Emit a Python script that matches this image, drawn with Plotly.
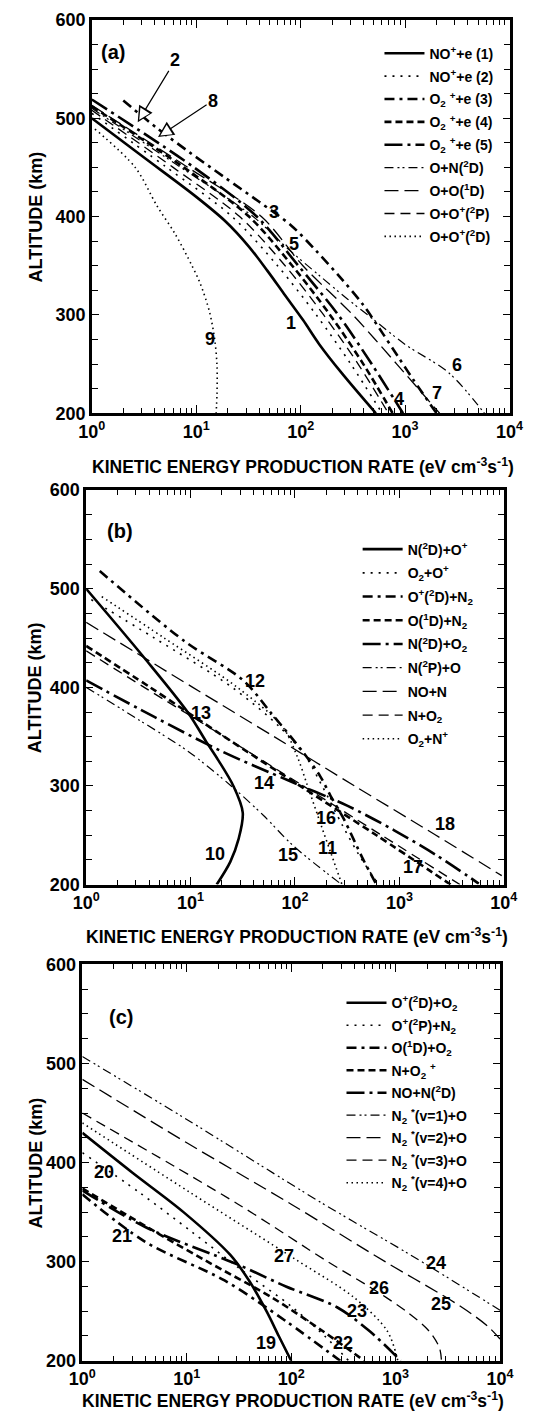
import numpy as np
import plotly.graph_objects as go

W, H = 552, 1424
FONT = "Liberation Sans, Arial, Helvetica, sans-serif"

# ---------------- panel (a) ----------------
a_names = ["NO<sup>+</sup>+e (1)", "NO<sup>+</sup>+e (2)", "O<sub>2</sub> <sup>+</sup>+e (3)",
           "O<sub>2</sub> <sup>+</sup>+e (4)", "O<sub>2</sub> <sup>+</sup>+e (5)",
           "O+N(<sup>2</sup>D)", "O+O(<sup>1</sup>D)", "O+O<sup>+</sup>(<sup>2</sup>P)",
           "O+O<sup>+</sup>(<sup>2</sup>D)"]

a1_alt = [500, 460, 420, 395, 370, 345, 320, 295, 270, 240, 200]
a1_rate = [1.0, 3.16, 10, 19.1, 31.6, 47.9, 70.8, 105, 151, 251, 525]
a2_alt = [505, 450, 400, 350, 300, 250, 200]
a2_rate = [1.0, 5.2, 22, 60, 141, 302, 603]
a3_alt = [518, 490, 465, 440, 415, 391, 365, 337, 310, 282, 258, 234, 200]
a3_rate = [2.0, 4.2, 8.7, 18.6, 40, 81, 141, 245, 398, 603, 851, 1200, 2000]
a4_alt = [512, 450, 400, 350, 300, 250, 200]
a4_rate = [1.0, 7.6, 32, 83, 191, 398, 760]
a5_alt = [519, 450, 400, 350, 300, 250, 200]
a5_rate = [1.0, 9.5, 38, 95, 229, 479, 955]
a6_alt = [510, 450, 400, 367, 340, 316, 296, 270, 241, 200]
a6_rate = [1.0, 7.1, 35, 76, 151, 282, 490, 1000, 2630, 5750]
a7_alt = [513, 450, 400, 350, 300, 250, 200]
a7_rate = [1.0, 8.3, 42, 105, 316, 832, 2140]
a8_alt = [508, 450, 400, 350, 300, 250, 200]
a8_rate = [1.0, 6.0, 26, 71, 166, 355, 692]
a9_alt = [489, 450, 411, 382, 350, 332, 303, 273, 248, 220, 200]
a9_rate = [1.07, 2.6, 4.2, 6.3, 9.1, 10.9, 13.4, 15.1, 15.8, 15.8, 15.5]

# ---------------- panel (b) ----------------
b_names = ["N(<sup>2</sup>D)+O<sup>+</sup>", "O<sub>2</sub>+O<sup>+</sup>",
           "O<sup>+</sup>(<sup>2</sup>D)+N<sub>2</sub>", "O(<sup>1</sup>D)+N<sub>2</sub>",
           "N(<sup>2</sup>D)+O<sub>2</sub>", "N(<sup>2</sup>P)+O", "NO+N", "N+O<sub>2</sub>",
           "O<sub>2</sub>+N<sup>+</sup>"]

b10_alt = [500, 430, 374, 345, 327, 300, 273, 246, 223, 200]
b10_rate = [1.0, 3.6, 9.5, 14.1, 18.2, 25.7, 31.6, 28.8, 24.0, 17.8]
b11_alt = [489, 450, 400, 360, 330, 300, 260, 230, 200]
b11_rate = [1.12, 4.5, 25, 71, 126, 182, 285, 410, 630]
b12_alt = [518, 447, 407, 374, 334, 310, 290, 266, 226, 200]
b12_rate = [1.35, 8.7, 32, 59, 120, 174, 219, 295, 447, 603]
b13_alt = [442, 400, 350, 300, 250, 200]
b13_rate = [1.0, 4.1, 21, 112, 603, 3090]
b14_alt = [407, 370, 335, 305, 280, 255, 230, 201]
b14_rate = [1.0, 4.5, 20, 89, 316, 891, 2240, 5750]
b15_alt = [400, 367, 335, 300, 270, 239, 200]
b15_rate = [1.0, 3.2, 9.5, 24.5, 50, 97, 280]
b16_alt = [466, 400, 350, 300, 250, 209]
b16_rate = [1.0, 10.5, 63, 372, 2240, 9550]
b17_alt = [437, 400, 350, 300, 250, 200]
b17_rate = [1.0, 3.6, 21, 120, 676, 3800]
b18_alt = [492, 450, 400, 360, 330, 300, 260, 230, 200]
b18_rate = [1.41, 5.6, 28, 76, 105, 132, 178, 224, 282]

# ---------------- panel (c) ----------------
c_names = ["O<sup>+</sup>(<sup>2</sup>D)+O<sub>2</sub>", "O<sup>+</sup>(<sup>2</sup>P)+N<sub>2</sub>",
           "O(<sup>1</sup>D)+O<sub>2</sub>", "N+O<sub>2</sub> <sup>+</sup>", "NO+N(<sup>2</sup>D)",
           "N<sub>2</sub> <sup>*</sup>(v=1)+O", "N<sub>2</sub> <sup>*</sup>(v=2)+O",
           "N<sub>2</sub> <sup>*</sup>(v=3)+O", "N<sub>2</sub> <sup>*</sup>(v=4)+O"]

c19_alt = [430, 390, 350, 307, 280, 250, 225, 200]
c19_rate = [1.0, 3.0, 9.3, 26, 40, 58, 76, 100]
c20_alt = [410, 370, 330, 290, 255, 225, 200]
c20_rate = [1.0, 3.5, 11.2, 35, 100, 209, 355]
c21_alt = [368, 320, 281, 240, 200]
c21_rate = [1.0, 4.0, 23, 89, 295]
c22_alt = [374, 330, 300, 264, 230, 200]
c22_rate = [1.0, 5.0, 15.8, 65, 200, 501]
c23_alt = [372, 335, 297, 275, 254, 230, 200]
c23_rate = [1.0, 4.0, 31, 89, 275, 562, 1120]
c24_alt = [507, 445, 360, 307, 251]
c24_rate = [1.0, 9.5, 191, 1380, 10000]
c25_alt = [484, 420, 358, 300, 255, 235, 222]
c25_rate = [1.0, 10, 100, 794, 4170, 7590, 10000]
c26_alt = [450, 358, 300, 274, 250, 230, 213, 200]
c26_rate = [1.0, 31, 224, 575, 1260, 2090, 2630, 2750]
c27_alt = [440, 370, 301, 264, 230, 200]
c27_rate = [1.0, 10.7, 115, 398, 832, 1050]

# curve number labels: (text, rate, altitude)
a_marks = [("3", 56, 405), ("5", 87, 372), ("1", 81, 292), ("9", 13.5, 275),
           ("6", 3160, 249), ("7", 2000, 221), ("4", 870, 214)]
b_marks = [("12", 41, 406), ("13", 12.6, 374), ("14", 50, 303), ("16", 200, 267),
           ("18", 2750, 261), ("10", 17, 231), ("15", 85, 230), ("11", 205, 237),
           ("17", 1350, 218)]
c_marks = [("20", 1.6, 390), ("21", 2.4, 326), ("27", 85, 306), ("24", 2450, 299),
           ("26", 690, 273), ("25", 2750, 257), ("23", 430, 250), ("19", 58, 218),
           ("22", 316, 218)]

# line styles shared by the three panels (width, dash)
STYLES = [
    (2.6, "solid"),
    (1.6, "2px,6px"),
    (2.6, "10px,5px,3px,5px"),
    (2.6, "7px,4px"),
    (2.6, "18px,5px,3px,5px"),
    (1.2, "9px,4px,2px,3px,2px,4px"),
    (1.3, "14px,6px"),
    (1.3, "10px,6px"),
    (1.6, "1.5px,3.5px"),
]

panels = [
    dict(key="", leg="legend", names=a_names, tag="(a)", tagpos=(1.6, 567),
         box=(82, 522, 10, 409), legpos=(385, 28), gap=1.7, titley=463, marks=a_marks,
         curves=[(a1_alt, a1_rate), (a2_alt, a2_rate), (a3_alt, a3_rate), (a4_alt, a4_rate),
                 (a5_alt, a5_rate), (a6_alt, a6_rate), (a7_alt, a7_rate), (a8_alt, a8_rate),
                 (a9_alt, a9_rate)]),
    dict(key="2", leg="legend2", names=b_names, tag="(b)", tagpos=(2.1, 559),
         box=(76, 516, 487, 887), legpos=(362, 531), gap=2.5, titley=939, marks=b_marks,
         curves=[(b10_alt, b10_rate), (b11_alt, b11_rate), (b12_alt, b12_rate),
                 (b13_alt, b13_rate), (b14_alt, b14_rate), (b15_alt, b15_rate),
                 (b16_alt, b16_rate), (b17_alt, b17_rate), (b18_alt, b18_rate)]),
    dict(key="3", leg="legend3", names=c_names, tag="(c)", tagpos=(2.35, 547),
         box=(72, 512, 968, 1370), legpos=(345, 991), gap=1.3, titley=1410, marks=c_marks,
         curves=[(c19_alt, c19_rate), (c20_alt, c20_rate), (c21_alt, c21_rate),
                 (c22_alt, c22_rate), (c23_alt, c23_rate), (c24_alt, c24_rate),
                 (c25_alt, c25_rate), (c26_alt, c26_rate), (c27_alt, c27_rate)]),
]

XT_VALS = [1, 10, 100, 1000, 10000]
XT_TEXT = ["<b>10<sup>%d</sup></b>" % k for k in range(5)]
X_MINOR = [m * 10 ** k for k in range(4) for m in range(2, 10)]
YT_VALS = [200, 300, 400, 500, 600]
YT_TEXT = ["<b>%d</b>" % v for v in YT_VALS]

fig = go.Figure()
annotations = []
layout = {}

base = dict(family=FONT, color="black")

for p in panels:
    l, r, t, b = p["box"]
    xd = [l / W, r / W]
    yd = [1 - b / H, 1 - t / H]
    xa, ya = "x" + p["key"], "y" + p["key"]

    for i, ((alt, rate), name) in enumerate(zip(p["curves"], p["names"])):
        w, dash = STYLES[i]
        fig.add_trace(go.Scatter(
            x=rate, y=alt, mode="lines", name="<b>" + name + "</b>",
            line=dict(color="black", width=w, dash=dash, shape="spline", smoothing=0.9),
            xaxis=xa, yaxis=ya, legend=p["leg"], legendgroup=p["leg"] + str(i),
        ))

    layout["xaxis" + p["key"]] = dict(
        type="log", range=[0, 4], domain=xd, anchor=ya,
        showline=True, linewidth=2.6, linecolor="black", mirror="ticks",
        ticks="inside", ticklen=8, tickwidth=1.3, tickcolor="black",
        tickmode="array", tickvals=XT_VALS, ticktext=XT_TEXT,
        tickfont=dict(size=18, **base),
        minor=dict(tickmode="array", tickvals=X_MINOR, ticks="inside", ticklen=5,
                   tickwidth=1.1, tickcolor="black"),
        showgrid=False, zeroline=False,
    )
    layout["yaxis" + p["key"]] = dict(
        range=[200, 600], domain=yd, anchor=xa,
        showline=True, linewidth=2.6, linecolor="black", mirror="ticks",
        ticks="inside", ticklen=7, tickwidth=1.3, tickcolor="black",
        tickmode="array", tickvals=YT_VALS, ticktext=YT_TEXT,
        tickfont=dict(size=18, **base),
        minor=dict(dtick=25, ticks="inside", ticklen=6, tickwidth=1.1, tickcolor="black"),
        showgrid=False, zeroline=False,
    )
    lx, ly = p["legpos"]
    layout[p["leg"]] = dict(
        x=lx / W, y=1 - ly / H, xanchor="left", yanchor="top",
        bgcolor="rgba(0,0,0,0)", borderwidth=0, itemwidth=40,
        traceorder="grouped", tracegroupgap=p["gap"],
        font=dict(size=14, **base),
    )

    # panel tag and curve numbers
    tx, ty = p["tagpos"]
    annotations.append(dict(text="<b>" + p["tag"] + "</b>", x=np.log10(tx), y=ty,
                            xref=xa, yref=ya, showarrow=False, font=dict(size=20, **base)))
    for txt, rate, alt in p["marks"]:
        annotations.append(dict(text="<b>" + txt + "</b>", x=np.log10(rate), y=alt,
                                xref=xa, yref=ya, showarrow=False, font=dict(size=18, **base)))

    # axis titles
    annotations.append(dict(text="<b>ALTITUDE (km)</b>", x=23 / W, y=1 - (t + b) / 2 / H,
                            xref="paper", yref="paper", xanchor="center", yanchor="middle",
                            textangle=-90, showarrow=False, font=dict(size=18, **base)))
    annotations.append(dict(text="<b>KINETIC ENERGY PRODUCTION RATE (eV cm<sup>-3</sup>s<sup>-1</sup>)</b>",
                            x=((l + r) / 2 + 2) / W, y=1 - p["titley"] / H,
                            xref="paper", yref="paper", xanchor="center", yanchor="middle",
                            showarrow=False, font=dict(size=17.5, **base)))

# pointer arrows for curves 2 and 8 in panel (a), drawn with open (outlined) heads:
# a black head first, then a smaller white head set back inside it
for txt, tip, tail in [("2", (2.75, 496), (6.3, 559)), ("8", (4.3, 481), (14.5, 518))]:
    tx, ty = np.log10(tip[0]), tip[1]
    annotations.append(dict(text="<b>" + txt + "</b>", x=tx, y=ty,
                            ax=np.log10(tail[0]), ay=tail[1], axref="x", ayref="y",
                            xref="x", yref="y", showarrow=True, arrowhead=2,
                            arrowsize=2.6, arrowwidth=1.2, arrowcolor="black", standoff=0,
                            font=dict(size=18, **base)))
    # direction of the arrow in screen pixels (panel a: 110 px/decade, ~1 px/km)
    dx = (np.log10(tip[0]) - np.log10(tail[0])) * 110.0
    dy = (tail[1] - tip[1]) * 0.9975
    n = np.hypot(dx, dy)
    ux, uy = dx / n, dy / n
    annotations.append(dict(text="", x=tx, y=ty, xref="x", yref="y",
                            ax=-ux * 13, ay=-uy * 13, axref="pixel", ayref="pixel",
                            showarrow=True, arrowhead=2, arrowsize=2.2, arrowwidth=1.0,
                            arrowcolor="white", standoff=2.8))

fig.update_layout(
    width=W, height=H, margin=dict(l=0, r=0, t=0, b=0),
    paper_bgcolor="white", plot_bgcolor="white",
    font=dict(family=FONT, size=14, color="black"),
    annotations=annotations, showlegend=True,
    **layout,
)

fig.write_html("out.html")
